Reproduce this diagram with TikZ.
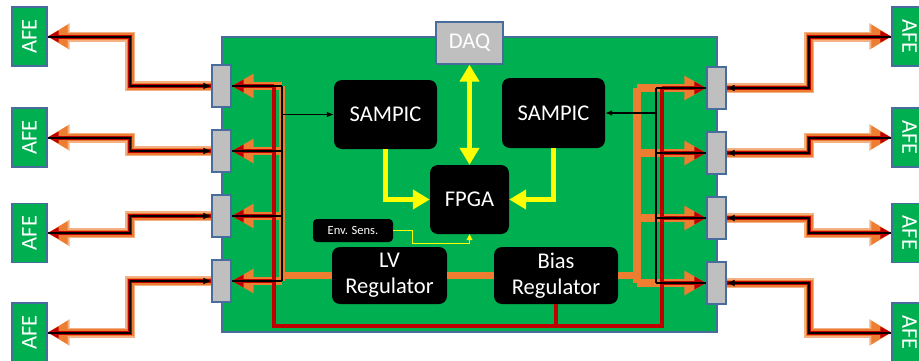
\documentclass[tikz,border=0pt]{standalone}
\usepackage{fontspec}
\setmainfont{Carlito}
\usetikzlibrary{arrows.meta,calc}
\definecolor{BrdGreen}{RGB}{0,176,80}
\definecolor{BrdEdge}{RGB}{72,108,156}
\definecolor{BrdGray}{RGB}{191,191,191}
\definecolor{BrdOrange}{RGB}{237,125,49}
\definecolor{BrdRed}{RGB}{192,0,0}
\definecolor{BrdYellow}{RGB}{255,255,0}
\tikzset{
  brd/board/.style={
    draw=BrdEdge,
    line width=1.2pt,
    fill=BrdGreen,
    inner sep=0pt,
    minimum width=495pt,
    minimum height=295pt
  },
  brd/afe/.style={
    draw=BrdEdge,
    line width=1.2pt,
    fill=BrdGreen,
    text=white,
    inner sep=0pt,
    minimum width=35pt,
    minimum height=59pt,
    font=\fontsize{22.5}{26}\selectfont
  },
  brd/conn/.style={
    draw=BrdEdge,
    line width=1.2pt,
    fill=BrdGray,
    inner sep=0pt,
    minimum width=19pt,
    minimum height=42pt
  },
  brd/daq/.style={
    draw=BrdEdge,
    line width=1.2pt,
    fill=BrdGray,
    text=white,
    inner sep=0pt,
    minimum width=67pt,
    minimum height=42pt,
    font=\fontsize{22.5}{26}\selectfont
  },
  brd/chip/.style={
    fill=black,
    rounded corners=8pt,
    text=white,
    align=center,
    inner sep=0pt,
    font=\fontsize{22.5}{26}\selectfont
  },
  brd/smallchip/.style={
    fill=black,
    rounded corners=4pt,
    text=white,
    inner sep=0pt,
    minimum width=80pt,
    minimum height=23pt,
    font=\fontsize{12.5}{14}\selectfont
  },
  brd/glow/.style={draw=BrdOrange!60, line width=10pt, -{Triangle[length=22pt,width=25pt]}},
  brd/cableO/.style={draw=BrdOrange, line width=7pt, -{Triangle[length=20pt,width=22pt]}},
  brd/cableR/.style={draw=BrdRed, line width=4pt, -{Triangle[length=11pt,width=11pt]}},
  brd/cableK/.style={draw=black, line width=2pt, {Latex[length=8pt,width=7pt]}-},
  brd/wireO/.style={draw=BrdOrange, line width=7.5pt},
  brd/wireR/.style={draw=BrdRed, line width=4pt},
  brd/wireK/.style={draw=black, line width=1.6pt},
  brd/headO/.style={-{Triangle[length=22pt,width=23pt]}},
  brd/headR/.style={-{Triangle[length=12pt,width=12pt]}},
  brd/yellow/.style={draw=BrdYellow, line width=5.5pt, -{Triangle[length=17pt,width=19pt]}},
  brd/thinyellow/.style={draw=BrdYellow, line width=1pt, -{Triangle[length=6pt,width=6pt]}}
}
\begin{document}
\begin{tikzpicture}[x=1pt,y=-1pt]
  \useasboundingbox (0,0) rectangle (919,360);
  \node[brd/board] (board) at (469.5,184.5) {};
  \node[brd/daq] (daq) at (469.5,43) {DAQ};
  % chips on the board
  \node[brd/chip,minimum width=103pt,minimum height=69pt] (sampL) at (385.5,114.5) {SAMPIC};
  \node[brd/chip,minimum width=103pt,minimum height=70pt] (sampR) at (553.5,113) {SAMPIC};
  \node[brd/chip,minimum width=79pt,minimum height=69pt] (fpga) at (469.5,199.5) {FPGA};
  \node[brd/smallchip] (env) at (353,230.5) {Env. Sens.};
  \node[brd/chip,minimum width=115pt,minimum height=57pt] (lv) at (389.5,275.5) {LV\\Regulator};
  \node[brd/chip,minimum width=124pt,minimum height=57pt] (bias) at (556,275.5) {Bias\\Regulator};
  % connectors and front ends
  \foreach \i/\yl/\yr/\ya in {1/86/88/36.5,2/151/153/137.5,3/216/218/233,4/281/283/332.5}{
    \node[brd/conn] (connL\i) at (221.5,\yl) {};
    \node[brd/conn] (connR\i) at (716.5,\yr) {};
    \node[brd/afe] (afeL\i) at (29.5,\ya) {\rotatebox{90}{AFE}};
    \node[brd/afe] (afeR\i) at (909.5,\ya) {\rotatebox{-90}{AFE}};
  }
  \coordinate (jogL) at (130,0);
  \coordinate (jogR) at (809,0);
  \coordinate (busOL) at (281.5,0);
  \coordinate (busRL) at (274,0);
  \coordinate (busKL) at (282,0);
  \coordinate (busOR) at (637,0);
  \coordinate (busKR) at (656,0);
  \coordinate (busRR) at (662,0);
  \coordinate (redfloor) at (0,326);
  \coordinate (envjog) at (412,243);
  % cables to the front ends
  \foreach \i in {1,...,4}{
    \draw[brd/glow] (connL\i.west) -- (connL\i.west -| jogL) |- (afeL\i.east);
    \draw[brd/cableO] (connL\i.west) -- (connL\i.west -| jogL) |- (afeL\i.east);
    \draw[brd/cableR] (connL\i.west) -- (connL\i.west -| jogL) |- (afeL\i.east);
    \draw[brd/cableK] (connL\i.west) -- (connL\i.west -| jogL) |- (afeL\i.east);
    \draw[brd/glow] (connR\i.east) -- (connR\i.east -| jogR) |- (afeR\i.west);
    \draw[brd/cableO] (connR\i.east) -- (connR\i.east -| jogR) |- (afeR\i.west);
    \draw[brd/cableR] (connR\i.east) -- (connR\i.east -| jogR) |- (afeR\i.west);
    \draw[brd/cableK] (connR\i.east) -- (connR\i.east -| jogR) |- (afeR\i.west);
  }
  % bias lines
  \draw[brd/wireO,line width=6pt] (connL1.east -| busOL) -- (connL4.east -| busOL);
  \draw[brd/wireO] (connR1.west -| busOR) -- (connR4.west -| busOR);
  \draw[brd/wireO] (lv.west -| busOL) -- (lv.west);
  \draw[brd/wireO] (lv.east) -- (bias.west);
  \draw[brd/wireO] (bias.east) -- (bias.east -| busOR);
  \foreach \i in {1,...,4}{
    \draw[brd/wireO,brd/headO] (connL\i.east -| busOL) -- (connL\i.east);
    \draw[brd/wireO,brd/headO] (connR\i.west -| busOR) -- (connR\i.west);
  }
  % low voltage lines
  \draw[brd/wireR] (connL1.east -| busRL) -- (busRL |- redfloor) -- (busRR |- redfloor) -- (connR1.west -| busRR);
  \draw[brd/wireR] (bias.south) -- (bias.south |- redfloor);
  \foreach \i in {1,...,4}{
    \draw[brd/wireR,brd/headR] (connL\i.east -| busRL) -- (connL\i.east);
    \draw[brd/wireR,brd/headR] (connR\i.west -| busRR) -- (connR\i.west);
  }
  % signal lines
  \draw[brd/wireK] (connL1.east -| busKL) -- (connL4.east -| busKL);
  \draw[brd/wireK] (connR1.west -| busKR) -- (connR4.west -| busKR);
  \foreach \i in {1,...,4}{
    \draw[brd/wireK] (connL\i.east -| busKL) -- (connL\i.east);
    \draw[brd/wireK] (connR\i.west -| busKR) -- (connR\i.west);
  }
  \draw[brd/wireK,-{Latex[length=7pt,width=6pt]}] (sampL.west -| busKL) -- (sampL.west);
  \draw[brd/wireK,-{Latex[length=7pt,width=6pt]}] (sampR.east -| busKR) -- (sampR.east);
  % readout
  \draw[brd/yellow,{Triangle[length=17pt,width=19pt]}-{Triangle[length=17pt,width=19pt]}] (daq.south) -- (fpga.north);
  \draw[brd/yellow] (sampL.south) |- (fpga.west);
  \draw[brd/yellow] (sampR.south) |- (fpga.east);
  \draw[brd/thinyellow] (env.east) -| (envjog) -| (fpga.south);
\end{tikzpicture}
\end{document}
